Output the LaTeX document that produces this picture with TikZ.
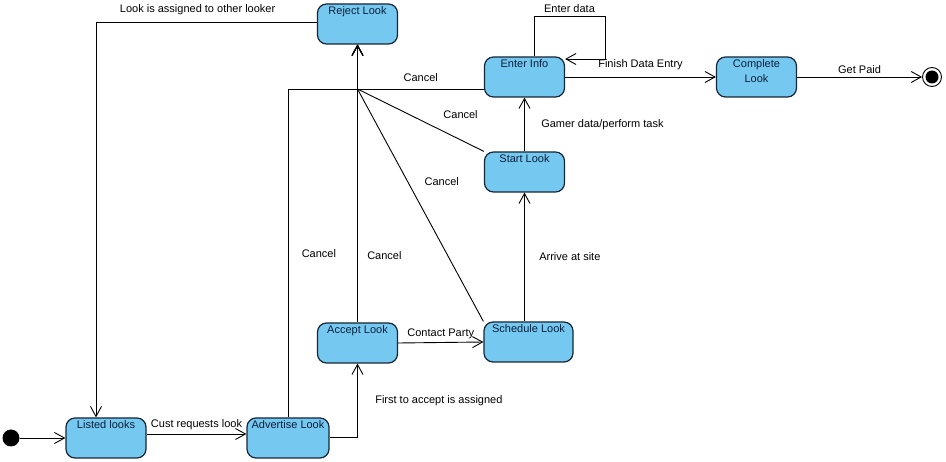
\documentclass[tikz,border=0pt]{standalone}
\usepackage{fontspec}
\setmainfont{Liberation Sans}
\usetikzlibrary{arrows.meta}
\usetikzlibrary{calc}
\definecolor{lookfill}{RGB}{117,201,241}
\definecolor{lookedge}{RGB}{22,38,54}
\definecolor{looktext}{RGB}{12,30,58}

\begin{document}
\begin{tikzpicture}[x=1pt, y=-1pt, font=\fontsize{11}{13}\selectfont,
  lookbox/.style={draw=lookedge, line width=1.2pt, fill=lookfill, rounded corners=9pt,
    minimum width=80pt, minimum height=40pt, inner sep=0pt},
  boxname/.style={anchor=north, text=looktext, align=center, inner sep=3pt,
    font=\fontsize{11}{15}\selectfont},
  trans/.style={line width=0.9pt, -{Straight Barb[length=10pt,width=11pt,line width=0.9pt]}}]
  \useasboundingbox (0,0) rectangle (946,462);

  % states
  \node[lookbox, label={[boxname]north:Reject Look}] at (357.5,24) (reject) {};
  \node[lookbox, label={[boxname]north:Enter Info}] at (524.5,77) (enter) {};
  \node[lookbox, label={[boxname]north:{Complete\\Look}}] at (756.5,77) (complete) {};
  \node[lookbox, label={[boxname]north:Start Look}] at (524.5,172) (start) {};
  \node[lookbox, minimum width=89pt, label={[boxname]north:Schedule Look}] at (528.5,342) (sched) {};
  \node[lookbox, label={[boxname]north:Accept Look}] at (357.5,343) (accept) {};
  \node[lookbox, label={[boxname]north:Listed looks}] at (106,438) (listed) {};
  \node[lookbox, minimum width=82pt, label={[boxname]north:Advertise Look}] at (288,438) (advert) {};

  \node[circle, fill=black, minimum size=17pt, inner sep=0pt] at (11,438) (init) {};
  \node[circle, draw, line width=0.9pt, minimum size=19pt, inner sep=0pt,
    path picture={\fill (path picture bounding box.center) circle (6.5pt);}] at (932,77) (final) {};

  % all cancels meet here
  \coordinate (hub) at (357.5,89);

  % transitions
  \draw[trans] (init) -- (listed);
  \draw[trans] ([yshift=4pt]listed.east) -- node[above]{Cust requests look} ([yshift=4pt]advert.west);
  \draw[trans] ([yshift=1pt]advert.east) -| node[pos=0.75, right=14pt]{First to accept is assigned} (accept.south);
  \draw[trans] (accept.east) -- node[above]{Contact Party} (sched.west);
  \draw[trans] (start.south |- sched.north) -- node[right=11pt]{Arrive at site} (start.south);
  \draw[trans] (start.north) -- node[right=13pt]{Gamer data/perform task} (enter.south);
  \draw[trans] ([xshift=9.5pt]enter.north) -- ++(0,-40) -- node[above]{Enter data} ++(71,0)
    |- ([yshift=18pt]enter.east);
  \draw[trans] (enter.east) -- node[above=3pt]{Finish Data Entry} (complete.west);
  \draw[trans] (complete.east) -- node[above]{Get Paid} (final);

  \draw[trans] (advert.north) |- node[pos=0.25, right=10pt]{Cancel} (hub) -- (reject.south);
  \draw[trans] (accept.north) -- node[pos=0.24, right=6pt]{Cancel} (reject.south);
  \draw[trans] (enter.west |- hub) -- node[above=4pt]{Cancel} (hub) -- (reject.south);
  \draw[trans] (start.north west) -- node[pos=0.35, above right, yshift=7pt]{Cancel} (hub) -- (reject.south);
  \draw[trans] (sched.north west) -- node[pos=0.6, right=13pt]{Cancel} (hub) -- (reject.south);

  \draw[trans] ([yshift=2pt]reject.west) -| node[pos=0.27, above=3pt]{Look is assigned to other looker}
    ([xshift=-10pt]listed.north);
\end{tikzpicture}
\end{document}
